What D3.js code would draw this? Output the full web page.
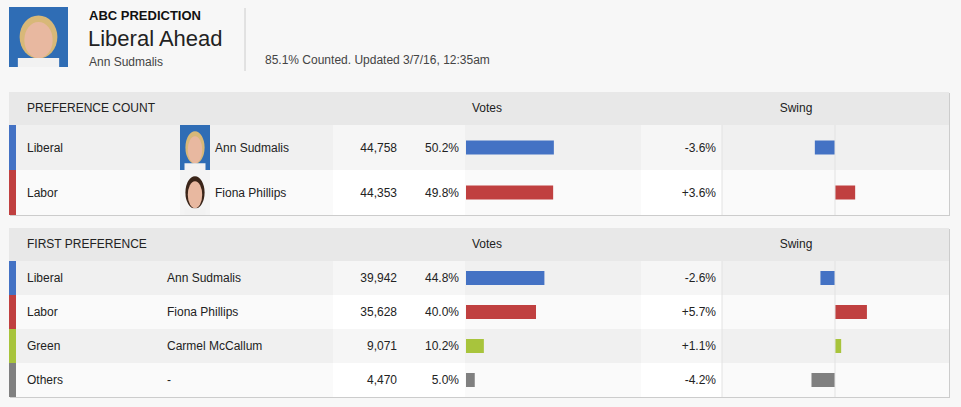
<!DOCTYPE html>
<html><head><meta charset="utf-8">
<script src="https://cdn.jsdelivr.net/npm/d3@7"></script>
<style>
  body { margin:0; background:#f7f7f7; font-family: Arial, "Liberation Sans", sans-serif; }
  svg text { font-family: Arial, "Liberation Sans", sans-serif; }
</style></head>
<body>
<svg id="chart" width="961" height="407"></svg>
<script>
// data
var parties = ["Liberal", "Labor", "Green", "Others"];
var partyColors = ["#4472c4", "#c04040", "#a8c43c", "#808080"];
var prefCandidates = ["Ann Sudmalis", "Fiona Phillips"];
var prefVotes = [44758, 44353];
var prefPct = [50.2, 49.8];
var prefSwing = [-3.6, 3.6];
var firstCandidates = ["Ann Sudmalis", "Fiona Phillips", "Carmel McCallum", "-"];
var firstVotes = [39942, 35628, 9071, 4470];
var firstPct = [44.8, 40.0, 10.2, 5.0];
var firstSwing = [-2.6, 5.7, 1.1, -4.2];

var svg = d3.select("#chart");
var fmt = d3.format(",");
var pctFmt = function(v){ return v.toFixed(1) + "%"; };
var swingFmt = function(v){ return (v > 0 ? "+" : "") + v.toFixed(1) + "%"; };

var xVotes = d3.scaleLinear().domain([0, 100]).range([466, 641]);
var xSwing = d3.scaleLinear().domain([-10, 10]).range([779, 891]);

// photo placeholder
function photo(g, x, y, w, h, bg, hair) {
  g.append("rect").attr("x", x).attr("y", y).attr("width", w).attr("height", h).attr("fill", bg);
  g.append("ellipse").attr("cx", x + w/2).attr("cy", y + h*0.5).attr("rx", w*0.32).attr("ry", h*0.36).attr("fill", hair);
  g.append("ellipse").attr("cx", x + w/2).attr("cy", y + h*0.55).attr("rx", w*0.24).attr("ry", h*0.3).attr("fill", "#e8b8a0");
  g.append("rect").attr("x", x + w*0.15).attr("y", y + h*0.85).attr("width", w*0.7).attr("height", h*0.15).attr("fill", "#f2f2f2");
}

// top header
photo(svg, 9, 7, 59, 60, "#2f6db5", "#d8b878");
svg.append("text").attr("x", 89).attr("y", 20).attr("font-size", 13).attr("font-weight", "bold").attr("fill", "#111").text("ABC PREDICTION");
svg.append("text").attr("x", 88).attr("y", 46).attr("font-size", 22).attr("fill", "#222").text("Liberal Ahead");
svg.append("text").attr("x", 89).attr("y", 66).attr("font-size", 12).attr("fill", "#444").text("Ann Sudmalis");
svg.append("line").attr("x1", 245).attr("x2", 245).attr("y1", 8).attr("y2", 71).attr("stroke", "#ccc");
svg.append("text").attr("x", 265).attr("y", 64).attr("font-size", 12).attr("fill", "#444").text("85.1% Counted. Updated 3/7/16, 12:35am");

function panel(y0, title, rowH, names, votes, pct, swing, withPhotos) {
  var g = svg.append("g");
  var n = votes.length;
  var h = 33 + rowH * n;
  g.append("rect").attr("x", 10).attr("y", y0 + 1).attr("width", 940).attr("height", h).attr("fill", "#ccc");
  g.append("rect").attr("x", 9).attr("y", y0).attr("width", 940).attr("height", h).attr("fill", "#fff");
  g.append("rect").attr("x", 9).attr("y", y0).attr("width", 940).attr("height", 33).attr("fill", "#e8e8e8");
  g.append("text").attr("x", 27).attr("y", y0 + 20).attr("font-size", 12).attr("fill", "#222").text(title);
  g.append("text").attr("x", 487).attr("y", y0 + 20).attr("font-size", 12).attr("fill", "#222").attr("text-anchor", "middle").text("Votes");
  g.append("text").attr("x", 796).attr("y", y0 + 20).attr("font-size", 12).attr("fill", "#222").attr("text-anchor", "middle").text("Swing");

  var rows = g.selectAll(".row").data(d3.range(n)).enter().append("g")
    .attr("transform", function(i){ return "translate(0," + (y0 + 33 + i * rowH) + ")"; });
  rows.append("rect").attr("x", 9).attr("width", 940).attr("height", rowH)
    .attr("fill", function(i){ return i % 2 ? "#fafafa" : "#f0f0f0"; });
  // lighter column cells
  rows.append("rect").attr("x", 333).attr("width", 132).attr("height", rowH)
    .attr("fill", function(i){ return i % 2 ? "#fff" : "#f6f6f6"; });
  rows.append("rect").attr("x", 641).attr("width", 81).attr("height", rowH)
    .attr("fill", function(i){ return i % 2 ? "#fff" : "#f6f6f6"; });
  rows.append("rect").attr("x", 9).attr("width", 7).attr("height", rowH)
    .attr("fill", function(i){ return partyColors[i]; });
  rows.append("text").attr("x", 27).attr("y", rowH/2 + 4).attr("font-size", 12).attr("fill", "#222")
    .text(function(i){ return parties[i]; });
  if (withPhotos) {
    rows.each(function(i){
      photo(d3.select(this), 180, 0, 30, rowH, i ? "#f4f4f4" : "#2f6db5", i ? "#3a2418" : "#d8b878");
    });
  }
  rows.append("text").attr("x", withPhotos ? 215 : 167).attr("y", rowH/2 + 4).attr("font-size", 12).attr("fill", "#222")
    .text(function(i){ return names[i]; });
  rows.append("text").attr("x", 397).attr("y", rowH/2 + 4).attr("font-size", 12).attr("fill", "#222").attr("text-anchor", "end")
    .text(function(i){ return fmt(votes[i]); });
  rows.append("text").attr("x", 459).attr("y", rowH/2 + 4).attr("font-size", 12).attr("fill", "#222").attr("text-anchor", "end")
    .text(function(i){ return pctFmt(pct[i]); });
  rows.append("rect").attr("x", xVotes(0)).attr("y", rowH/2 - 7).attr("height", 14)
    .attr("width", function(i){ return xVotes(pct[i]) - xVotes(0); })
    .attr("fill", function(i){ return partyColors[i]; });
  rows.append("text").attr("x", 716).attr("y", rowH/2 + 4).attr("font-size", 12).attr("fill", "#222").attr("text-anchor", "end")
    .text(function(i){ return swingFmt(swing[i]); });
  rows.append("rect").attr("y", rowH/2 - 7).attr("height", 14)
    .attr("x", function(i){ return Math.min(xSwing(0), xSwing(swing[i])); })
    .attr("width", function(i){ return Math.abs(xSwing(swing[i]) - xSwing(0)); })
    .attr("fill", function(i){ return partyColors[i]; });
  g.append("line").attr("x1", 722).attr("x2", 722).attr("y1", y0 + 33).attr("y2", y0 + h).attr("stroke", "#e2e2e2");
  g.append("line").attr("x1", xSwing(0)).attr("x2", xSwing(0)).attr("y1", y0 + 33).attr("y2", y0 + h).attr("stroke", "#e2e2e2");
}

panel(92, "PREFERENCE COUNT", 45, prefCandidates, prefVotes, prefPct, prefSwing, true);
panel(228, "FIRST PREFERENCE", 34, firstCandidates, firstVotes, firstPct, firstSwing, false);
</script>
</body></html>
